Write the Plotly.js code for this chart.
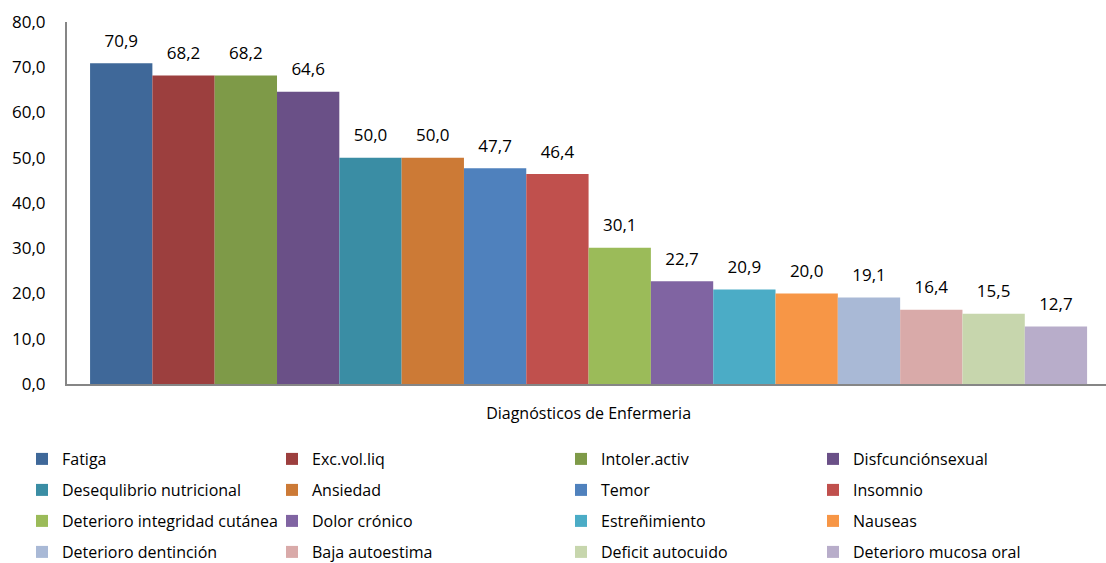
<!DOCTYPE html>
<html>
<head>
<meta charset="utf-8">
<script src="https://cdn.plot.ly/plotly-3.0.1.min.js"></script>
<style>html,body{margin:0;padding:0;background:#fff;}#chart{width:1106px;height:563px;}</style>
</head>
<body>
<div id="chart"></div>
<script>
const category = ["Diagnósticos de Enfermeria"];
const seriesNames = ["Fatiga","Exc.vol.liq","Intoler.activ","Disfcunciónsexual","Desequlibrio nutricional","Ansiedad","Temor","Insomnio","Deterioro integridad cutánea","Dolor crónico","Estreñimiento","Nauseas","Deterioro dentinción","Baja autoestima","Deficit autocuido","Deterioro mucosa oral"];
const seriesValues = [70.9,68.2,68.2,64.6,50.0,50.0,47.7,46.4,30.1,22.7,20.9,20.0,19.1,16.4,15.5,12.7];
const seriesColors = ["#3F6899","#9C3F3E","#7E9A48","#6A5087","#3A8DA4","#CC7A36","#4F81BD","#C0504D","#9BBB59","#8064A2","#4BACC6","#F79646","#A9B9D6","#D9AAA9","#C7D6AD","#B8ADCA"];
const yTicks = [0,10,20,30,40,50,60,70,80];

const FONT = "Open Sans, sans-serif";
const W = 1106, H = 563;
// legend grid (layout only): legend box x and row centre y, in pixels
const legendColX = [22, 272, 561, 813];
const legendRowY = [459, 490, 521, 552];
const legendId = i => i === 0 ? "legend" : "legend" + (i + 1);

const fmt = v => v.toFixed(1).replace(".", ",");

const bars = seriesNames.map((n,i)=>({
  type:"bar", name:n, x:category, y:[seriesValues[i]],
  marker:{color:seriesColors[i], line:{width:0}},
  legend:legendId(i),
  hoverinfo:"name+y"
}));
const labels = seriesNames.map((n,i)=>({
  type:"scatter", mode:"markers+text", name:n, x:category, y:[seriesValues[i]],
  text:[fmt(seriesValues[i])], textposition:"top center",
  textfont:{family:FONT, size:17, color:"#000"},
  marker:{size:18, opacity:0, color:"#fff"},
  showlegend:false, cliponaxis:false, hoverinfo:"skip"
}));

const layout = {
  width:W, height:H,
  margin:{l:67, r:0, t:22, b:179, autoexpand:false},
  paper_bgcolor:"#fff", plot_bgcolor:"#fff",
  barmode:"group", bargap:0.0404, bargroupgap:0,
  scattermode:"group", scattergap:0.0404,
  separators:",.",
  font:{family:FONT, size:16, color:"#000"},
  xaxis:{type:"category", range:[-0.502, 0.498], showline:true, linecolor:"#868686", linewidth:2, ticks:"", showgrid:false, automargin:false,
         tickfont:{family:FONT, size:16, color:"#000"}, ticklabelstandoff:14},
  yaxis:{range:[0,80], tickvals:yTicks, tickformat:".1f", showline:true, linecolor:"#868686", linewidth:2, automargin:false,
         ticks:"", showgrid:false, zeroline:false, tickfont:{family:FONT, size:17, color:"#000"}, ticklabelstandoff:16},
  showlegend:true
};
seriesNames.forEach((n,i)=>{
  const r = Math.floor(i/4), c = i % 4;
  layout[legendId(i)] = {
    orientation:"v", xref:"container", yref:"container",
    x:legendColX[c]/W, y:1 - legendRowY[r]/H, xanchor:"left", yanchor:"middle",
    font:{family:FONT, size:16, color:"#000"}, bgcolor:"rgba(0,0,0,0)", borderwidth:0, itemwidth:30
  };
});
Plotly.newPlot("chart", bars.concat(labels), layout, {displayModeBar:false, staticPlot:true});
</script>
</body>
</html>
